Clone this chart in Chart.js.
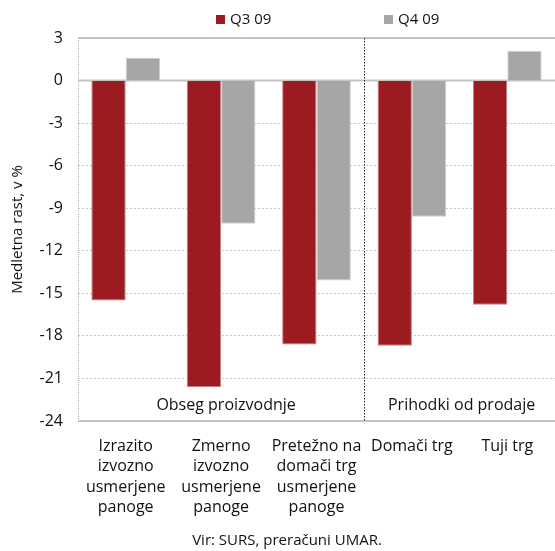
<!DOCTYPE html>
<html>
<head>
<meta charset="utf-8">
<script src="https://cdn.jsdelivr.net/npm/chart.js@4.4.1/dist/chart.umd.min.js"></script>
<style>
  html, body { margin: 0; padding: 0; background: #fff; }
  #wrap { width: 555px; height: 551px; position: relative; }
</style>
</head>
<body>
<div id="wrap"><canvas id="c"></canvas></div>
<script>
// Categories (multi-line tick labels)
const categories = [
  ['Izrazito', 'izvozno', 'usmerjene', 'panoge'],
  ['Zmerno', 'izvozno', 'usmerjene', 'panoge'],
  ['Pretežno na', 'domači trg', 'usmerjene', 'panoge'],
  ['Domači trg'],
  ['Tuji trg']
];
const seriesNames = ['Q3 09', 'Q4 09'];
const q3Values = [-15.5, -21.6, -18.6, -18.7, -15.8];
const q4Values = [1.6, -10.1, -14.1, -9.6, 2.1];
const groupLabels = ['Obseg proizvodnje', 'Prihodki od prodaje'];
const yTitle = 'Medletna rast, v %';
const sourceNote = 'Vir: SURS, preračuni UMAR.';

const FONT = '"Open Sans", "Noto Sans", sans-serif';
const RED = '#9C1B20';
const GREY = '#A6A6A6';
const LINE = '#C4C4C4';

const decorPlugin = {
  id: 'decor',
  beforeDatasetsDraw(chart) {
    const { ctx, chartArea: a, scales: { y } } = chart;
    ctx.save();
    // dotted left edge of the plot
    ctx.strokeStyle = '#B0B0B0';
    ctx.lineWidth = 1;
    ctx.setLineDash([1, 1]);
    ctx.beginPath();
    ctx.moveTo(a.left + 0.5, a.top);
    ctx.lineTo(a.left + 0.5, a.bottom);
    ctx.stroke();
    ctx.setLineDash([]);
    // solid top, bottom and zero lines
    ctx.strokeStyle = LINE;
    ctx.lineWidth = 2;
    [y.getPixelForValue(3), y.getPixelForValue(-24), y.getPixelForValue(0)].forEach(py => {
      ctx.beginPath();
      ctx.moveTo(a.left, py);
      ctx.lineTo(a.right, py);
      ctx.stroke();
    });
    ctx.restore();
  },
  afterDatasetsDraw(chart) {
    const { ctx, chartArea: a, scales: { x, y } } = chart;
    ctx.save();
    // divider between the two groups
    const dx = Math.round(x.getPixelForValue(2.5)) + 0.5;
    ctx.strokeStyle = '#222';
    ctx.lineWidth = 1;
    ctx.setLineDash([1.5, 1.5]);
    ctx.beginPath();
    ctx.moveTo(dx, a.top);
    ctx.lineTo(dx, a.bottom);
    ctx.stroke();
    ctx.setLineDash([]);

    ctx.fillStyle = '#111';
    ctx.font = '16px ' + FONT;
    ctx.textAlign = 'center';
    ctx.textBaseline = 'middle';
    const gy = y.getPixelForValue(-22.9);
    ctx.fillText(groupLabels[0], x.getPixelForValue(1) + 5, gy);
    ctx.fillText(groupLabels[1], x.getPixelForValue(3.5) + 2, gy);

    // y-axis title
    ctx.save();
    ctx.translate(18, (a.top + a.bottom) / 2);
    ctx.rotate(-Math.PI / 2);
    ctx.font = '15px ' + FONT;
    ctx.fillText(yTitle, 0, 0);
    ctx.restore();

    // source note
    ctx.font = '15px ' + FONT;
    ctx.fillText(sourceNote, 287, 541);

    // legend
    ctx.textAlign = 'left';
    ctx.font = '15px ' + FONT;
    const lx = [216, 384];
    chart.data.datasets.forEach((ds, i) => {
      ctx.fillStyle = ds.backgroundColor;
      ctx.fillRect(lx[i], 15, 9, 9);
      ctx.fillStyle = '#111';
      ctx.fillText(ds.label, lx[i] + 14, 19.5);
    });
    ctx.restore();
  }
};

new Chart(document.getElementById('c'), {
  type: 'bar',
  data: {
    labels: categories,
    datasets: [
      { label: seriesNames[0], data: q3Values, backgroundColor: RED, borderColor: '#C77C7F', borderWidth: { right: 1, bottom: 1, left: 1, top: 0 } },
      { label: seriesNames[1], data: q4Values, backgroundColor: GREY, borderColor: '#CFCFCF', borderWidth: 1 }
    ]
  },
  options: {
    responsive: true,
    maintainAspectRatio: false,
    animation: false,
    layout: { padding: { top: 38, right: 0, left: 0, bottom: 0 } },
    datasets: { bar: { categoryPercentage: 0.72, barPercentage: 1.0 } },
    plugins: {
      legend: { display: false },
      tooltip: { enabled: false }
    },
    scales: {
      x: {
        grid: { display: false, drawTicks: false },
        border: { display: false },
        ticks: {
          maxRotation: 0,
          autoSkip: false,
          padding: 15,
          color: '#111',
          font: { family: FONT, size: 16, lineHeight: 1.28 }
        },
        afterFit(s) { s.height = 130; }
      },
      y: {
        min: -24,
        max: 3,
        ticks: {
          stepSize: 3,
          padding: 15,
          color: '#111',
          font: { family: FONT, size: 16 }
        },
        grid: {
          drawTicks: false,
          color(ctx) {
            const v = ctx.tick ? ctx.tick.value : null;
            return (v === 0 || v === 3 || v === -24) ? 'rgba(0,0,0,0)' : '#C8C8C8';
          },
          lineWidth: 1
        },
        border: { display: false, dash: [2, 2] },
        afterFit(s) { s.width = 78; }
      }
    }
  },
  plugins: [decorPlugin]
});
</script>
</body>
</html>
